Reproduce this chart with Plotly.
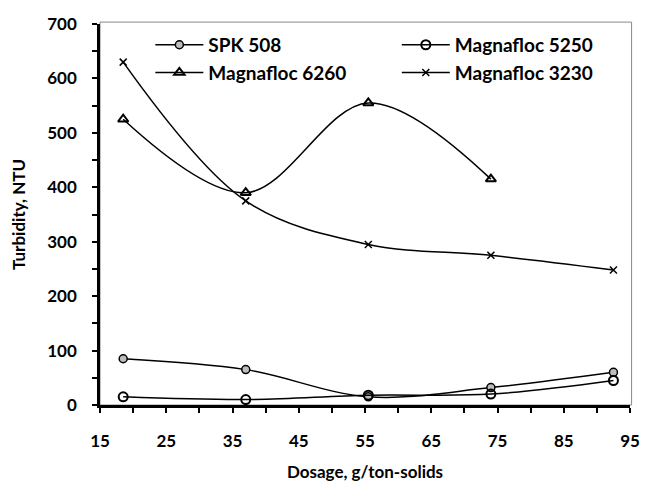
import plotly.graph_objects as go

x_dose = [18.5, 37, 55.5, 74, 92.5]
x_6260 = [18.5, 37, 55.5, 74]
spk508 = [85, 65, 15, 32, 60]
mag5250 = [15, 10, 18, 20, 45]
mag6260 = [525, 390, 555, 415]
mag3230 = [630, 375, 295, 275, 248]

x_ticks = [15, 25, 35, 45, 55, 65, 75, 85, 95]
y_ticks = [0, 100, 200, 300, 400, 500, 600, 700]

font_fam = "Lato, Open Sans, sans-serif"

fig = go.Figure()
fig.add_trace(go.Scatter(x=x_dose, y=spk508, name="SPK 508", mode="lines+markers", legend="legend",
                         line=dict(color="black", width=1.5, shape="spline"),
                         marker=dict(symbol="circle", size=8, color="#bdbdbd",
                                     line=dict(color="black", width=1.5))))
fig.add_trace(go.Scatter(x=x_dose, y=mag5250, name="Magnafloc 5250", mode="lines+markers", legend="legend2",
                         line=dict(color="black", width=1.5, shape="spline"),
                         marker=dict(symbol="circle-open", size=9,
                                     line=dict(color="black", width=2))))
fig.add_trace(go.Scatter(x=x_6260, y=mag6260, name="Magnafloc 6260", mode="lines+markers", legend="legend",
                         line=dict(color="black", width=1.5, shape="spline"),
                         marker=dict(symbol="triangle-up-open", size=9,
                                     line=dict(color="black", width=2))))
fig.add_trace(go.Scatter(x=x_dose, y=mag3230, name="Magnafloc 3230", mode="lines+markers", legend="legend2",
                         line=dict(color="black", width=1.5, shape="spline"),
                         marker=dict(symbol="x-thin-open", size=7,
                                     line=dict(color="black", width=1.5))))

leg_common = dict(orientation="v", y=0.995, xanchor="left", yanchor="top", tracegroupgap=0,
                  bgcolor="rgba(0,0,0,0)", font=dict(size=19, family=font_fam, weight="bold"),
                  itemwidth=48, traceorder="normal")

fig.update_layout(
    width=652, height=491,
    margin=dict(l=100, r=14, t=24, b=86),
    paper_bgcolor="white", plot_bgcolor="white",
    font=dict(family=font_fam, color="black", size=15),
    showlegend=True,
    legend=dict(x=0.095, **leg_common),
    legend2=dict(x=0.56, **leg_common),
    xaxis=dict(range=[15, 95], tickvals=x_ticks, ticktext=[str(v) for v in x_ticks],
               showgrid=False, zeroline=False, showline=True, linecolor="black", linewidth=2.5,
               ticks="outside", ticklen=5, tickwidth=2, tickcolor="black",
               minor=dict(dtick=5, tick0=15, ticks="outside", ticklen=5, tickwidth=2, tickcolor="black"),
               tickfont=dict(size=17, family=font_fam, weight="bold"), ticklabelstandoff=14,
               title=dict(text="Dosage, g/ton-solids", font=dict(size=17, weight="bold"), standoff=16)),
    yaxis=dict(range=[0, 700], tickvals=y_ticks, ticktext=[str(v) for v in y_ticks],
               showgrid=False, zeroline=False, showline=True, linecolor="black", linewidth=2.5,
               ticks="outside", ticklen=5, tickwidth=2, tickcolor="black",
               minor=dict(dtick=50, ticks="outside", ticklen=5, tickwidth=2, tickcolor="black"),
               tickfont=dict(size=17, family=font_fam, weight="bold"), ticklabelstandoff=12,
               title=dict(text="Turbidity, NTU", font=dict(size=17, weight="bold"), standoff=18)),
)

fig.add_shape(type="rect", xref="paper", yref="paper", x0=0, y0=0, x1=1.003, y1=1.005,
              line=dict(color="#888888", width=1), layer="below")

fig.write_html("out.html")
